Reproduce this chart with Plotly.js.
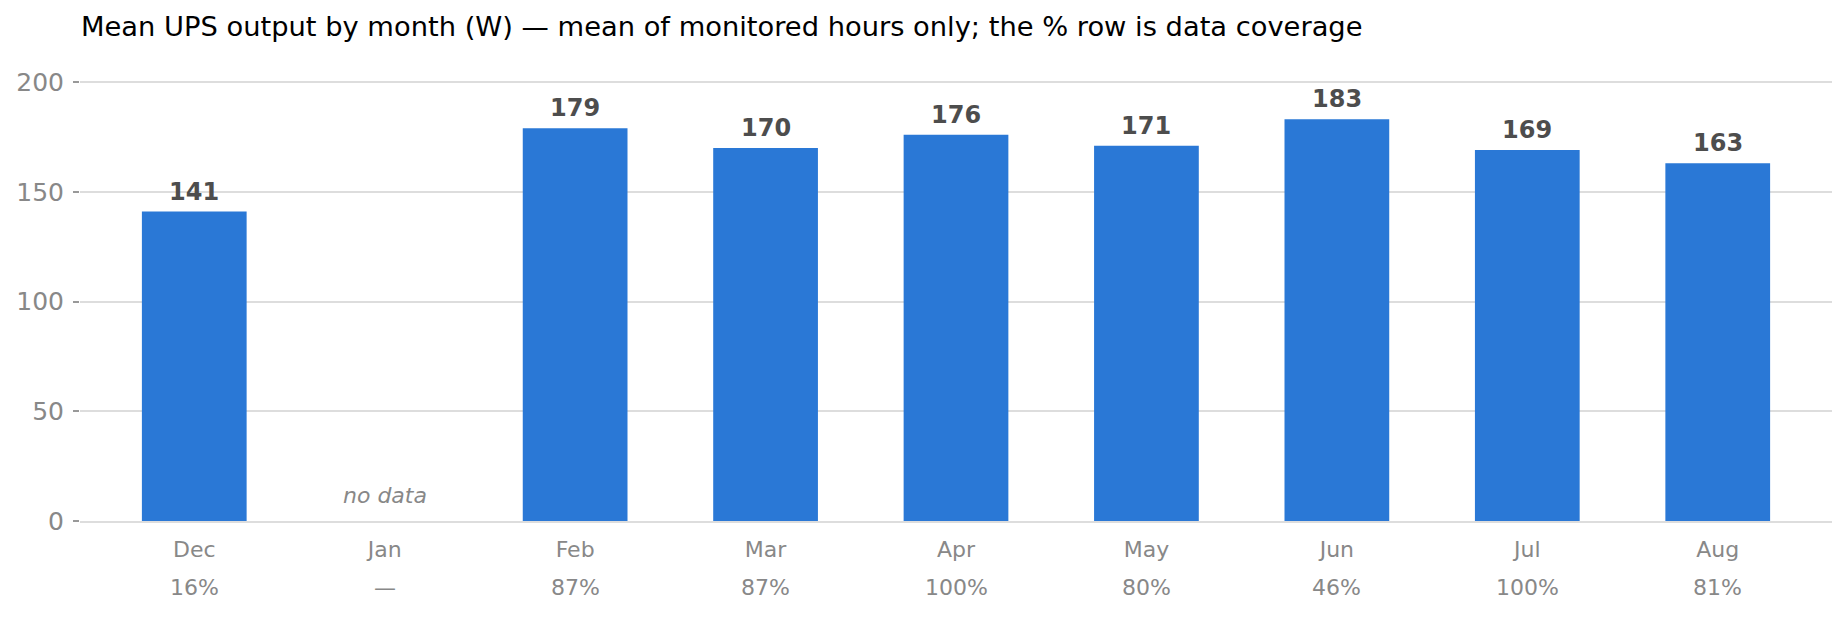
<!DOCTYPE html>
<html>
<head>
<meta charset="utf-8">
<script src="https://cdn.plot.ly/plotly-3.0.1.min.js"></script>
<style>
  html, body { margin: 0; padding: 0; background: #ffffff; }
  #myDiv { width: 1846px; height: 623px; }
</style>
</head>
<body>
<div id="myDiv"></div>
<script>
// monthly UPS output, watts (mean of monitored hours), Jan has no data
var months   = ['Dec', 'Jan', 'Feb', 'Mar', 'Apr', 'May', 'Jun', 'Jul', 'Aug'];
var watts    = [141, null, 179, 170, 176, 171, 183, 169, 163];
var coverage = ['16%', '\u2014', '87%', '87%', '100%', '80%', '46%', '100%', '81%'];
var yTicks   = [0, 50, 100, 150, 200];

var fontFam = 'DejaVu Sans, sans-serif';
var barColor = '#2a78d6';
var grey = '#888888';

var traceBars = {
  x: months,
  y: watts,
  type: 'bar',
  width: 0.55,
  marker: { color: barColor, line: { width: 0 } },
  hoverinfo: 'x+y',
  showlegend: false
};

// value labels over the bars, coverage row under the month names
var notes = [];
for (var i = 0; i < months.length; i++) {
  if (watts[i] !== null) {
    notes.push({
      x: months[i], y: watts[i], xref: 'x', yref: 'y',
      text: '<b>' + watts[i] + '</b>', showarrow: false,
      yanchor: 'bottom', yshift: 4,
      font: { family: fontFam, size: 24, color: '#4d4d4d' }
    });
  } else {
    notes.push({
      x: months[i], y: 0, xref: 'x', yref: 'y',
      text: '<i>no data</i>', showarrow: false,
      yanchor: 'middle', yshift: 26,
      font: { family: fontFam, size: 22, color: grey }
    });
  }
  notes.push({
    x: months[i], y: 0, xref: 'x', yref: 'paper',
    text: coverage[i], showarrow: false,
    yanchor: 'middle', yshift: -66,
    font: { family: fontFam, size: 22, color: grey }
  });
}

var layout = {
  width: 1846,
  height: 623,
  paper_bgcolor: '#ffffff',
  plot_bgcolor: '#ffffff',
  margin: { l: 80, r: 14, t: 59, b: 102, pad: 0 },
  font: { family: fontFam, color: grey },
  title: {
    text: 'Mean UPS output by month (W) \u2014 mean of monitored hours only; the % row is data coverage',
    x: 81 / 1846, xref: 'container', xanchor: 'left',
    y: 1 - 26 / 623, yref: 'container', yanchor: 'middle',
    font: { family: fontFam, size: 27.3, color: '#000000' }
  },
  xaxis: {
    type: 'category',
    range: [-0.6, 8.6],
    showgrid: false,
    zeroline: false,
    showline: true,
    linecolor: '#dddddd',
    linewidth: 1.5,
    ticks: '',
    ticklabelstandoff: 8,
    tickfont: { family: fontFam, size: 22, color: grey },
    fixedrange: true
  },
  yaxis: {
    range: [0, 210.5],
    tickvals: yTicks,
    showgrid: true,
    gridcolor: '#dddddd',
    gridwidth: 1.5,
    zeroline: false,
    showline: false,
    ticks: 'outside',
    ticklen: 6,
    tickwidth: 1.5,
    tickcolor: '#999999',
    ticklabelstandoff: 4,
    tickfont: { family: fontFam, size: 25, color: grey },
    fixedrange: true
  },
  annotations: notes,
  bargap: 0.45
};

var config = { displayModeBar: false, responsive: false };

Plotly.newPlot('myDiv', [traceBars], layout, config);
</script>
</body>
</html>
